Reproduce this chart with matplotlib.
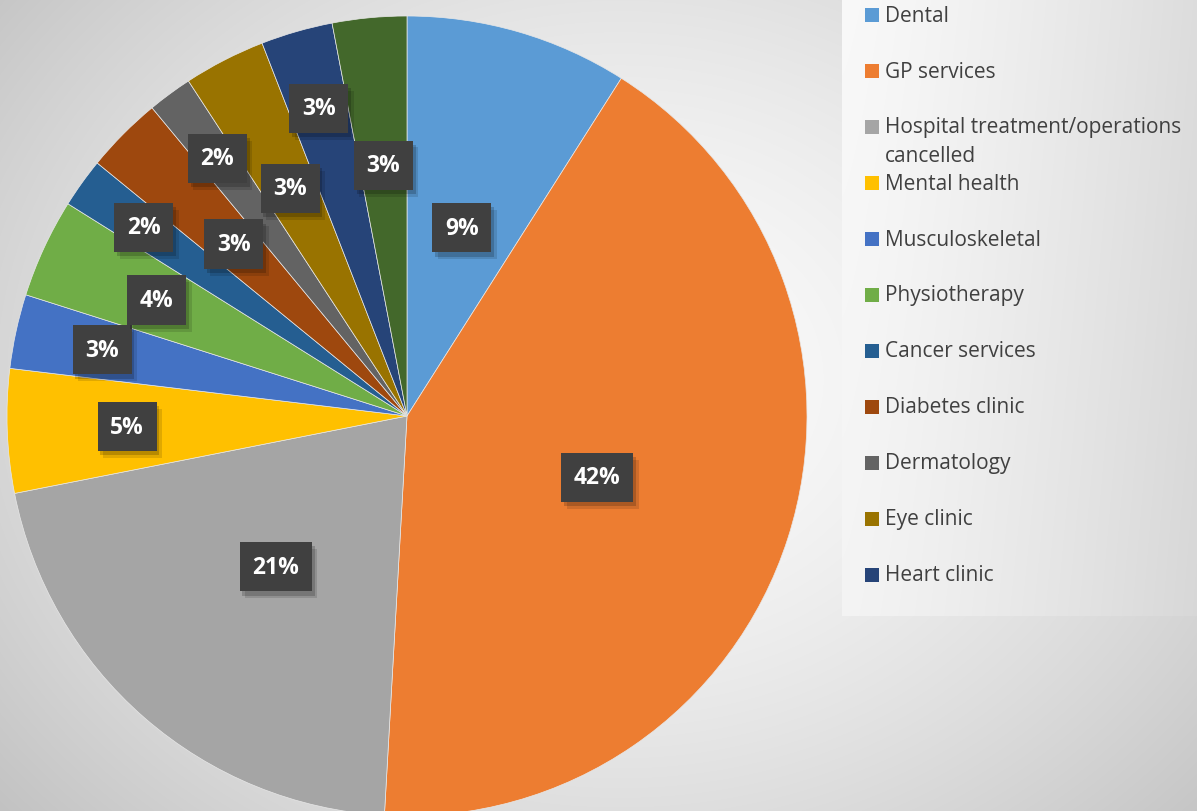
import numpy as np
import matplotlib
matplotlib.use('Agg')
import matplotlib.pyplot as plt
import matplotlib.patheffects as pe
from matplotlib.patches import Rectangle

categories = ['Dental', 'GP services', 'Hospital treatment/operations\ncancelled',
              'Mental health', 'Musculoskeletal', 'Physiotherapy', 'Cancer services',
              'Diabetes clinic', 'Dermatology', 'Eye clinic', 'Heart clinic', 'Other']
values = [9.0, 41.9, 21.0, 5.0, 3.0, 4.0, 2.0, 3.1, 1.8, 3.3, 2.9, 3.0]
colors = ['#5B9BD5', '#ED7D31', '#A5A5A5', '#FFC000', '#4472C4', '#70AD47',
          '#255E91', '#9E480E', '#636363', '#997300', '#264478', '#43682B']
# radial position of each data label (fraction of radius)
label_r = [0.49, 0.5, 0.5, 0.7, 0.78, 0.69, 0.81, 0.61, 0.8, 0.64, 0.8, 0.63]
n_legend = 11

W, H = 1197, 812
fig = plt.figure(figsize=(W / 100, H / 100), dpi=100)

# background gradient
bg = fig.add_axes([0, 0, 1, 1])
yy, xx = np.mgrid[0:H, 0:W]
d = np.sqrt(((xx - 620) / 760.0) ** 2 + ((yy - 380) / 620.0) ** 2)
shade = np.clip(0.985 - 0.2 * d ** 1.6, 0.76, 1)
img = np.dstack([shade] * 3)
# legend panel
lx0, lx1, ly1 = 842, W, 616
t = (xx - lx0) / (lx1 - lx0)
panel = 0.975 - 0.11 * t ** 1.3 - 0.02 * (yy / ly1)
mask = (xx >= lx0) & (yy <= ly1)
for c in range(3):
    img[..., c][mask] = panel[mask]
bg.imshow(img, extent=[0, W, H, 0], aspect='auto')
bg.set_xlim(0, W)
bg.set_ylim(H, 0)
bg.axis('off')

# pie
cx, cy, R = 407, 417, 400
ax = fig.add_axes([(cx - R) / W, (H - cy - R) / H, 2 * R / W, 2 * R / H])
wedges, _ = ax.pie(values, colors=colors, startangle=90, counterclock=False,
                   radius=1, wedgeprops=dict(edgecolor='#e8e8e8', linewidth=0.5))
ax.set_xlim(-1, 1)
ax.set_ylim(-1, 1)
ax.set_aspect('equal')
ax.axis('off')

total = sum(values)
cum = 0
for v, r in zip(values, label_r):
    mid = 90 - 360 * (cum + v / 2) / total
    cum += v
    x = r * np.cos(np.radians(mid))
    y = r * np.sin(np.radians(mid))
    txt = ax.text(x, y, f'{round(v / total * 100)}%', ha='center', va='center',
                  color='white', fontsize=16.5, fontweight='bold', family='Open Sans',
                  bbox=dict(boxstyle='square,pad=0.55', facecolor='#404040',
                            edgecolor='none', linewidth=0))
    txt.get_bbox_patch().set_path_effects(
        [pe.SimplePatchShadow(offset=(4, -5), shadow_rgbFace='black', alpha=0.12),
         pe.SimplePatchShadow(offset=(2, -3), shadow_rgbFace='black', alpha=0.18),
         pe.Normal()])

# legend
for i in range(n_legend):
    ytop = 16 + 56 * i
    bg.add_patch(Rectangle((865, ytop - 7), 14, 14, facecolor=colors[i],
                           edgecolor='none'))
    if '\n' in categories[i]:
        bg.text(885, ytop + 14, categories[i], ha='left', va='center',
                fontsize=15, family='Open Sans', color='#404040', linespacing=1.45)
    else:
        bg.text(885, ytop, categories[i], ha='left', va='center',
                fontsize=15, family='Open Sans', color='#404040')

fig.savefig('out.png', dpi=100)
